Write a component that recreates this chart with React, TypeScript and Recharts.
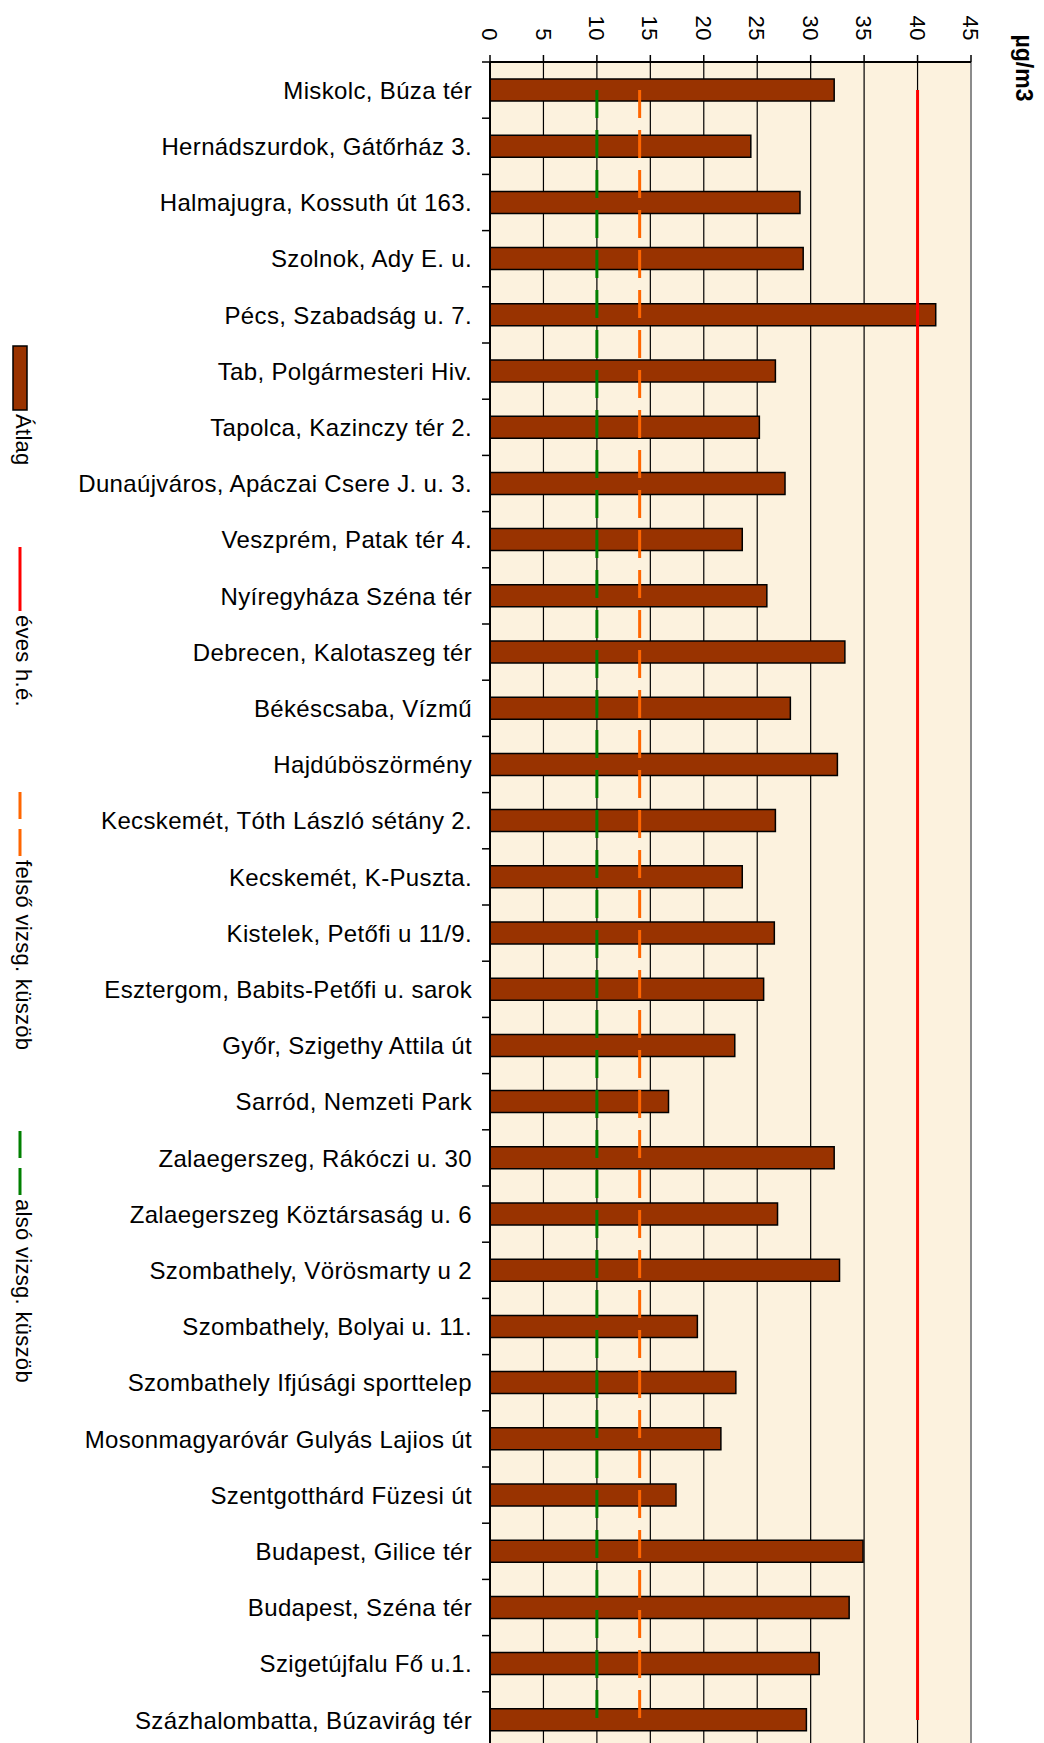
import { ComposedChart, Bar, Line, XAxis, YAxis, CartesianGrid, Legend, ReferenceLine } from 'recharts'

// mérőállomások (fentről lefelé)
const allomasok = [
  'Miskolc, Búza tér',
  'Hernádszurdok, Gátőrház 3.',
  'Halmajugra, Kossuth út 163.',
  'Szolnok, Ady E. u.',
  'Pécs, Szabadság u. 7.',
  'Tab, Polgármesteri Hiv.',
  'Tapolca, Kazinczy tér 2.',
  'Dunaújváros, Apáczai Csere J. u. 3.',
  'Veszprém, Patak tér 4.',
  'Nyíregyháza Széna tér',
  'Debrecen, Kalotaszeg tér',
  'Békéscsaba, Vízmű',
  'Hajdúböszörmény',
  'Kecskemét, Tóth László sétány 2.',
  'Kecskemét, K-Puszta.',
  'Kistelek, Petőfi u 11/9.',
  'Esztergom, Babits-Petőfi u. sarok',
  'Győr, Szigethy Attila út',
  'Sarród, Nemzeti Park',
  'Zalaegerszeg, Rákóczi u. 30',
  'Zalaegerszeg Köztársaság u. 6',
  'Szombathely, Vörösmarty u 2',
  'Szombathely, Bolyai u. 11.',
  'Szombathely Ifjúsági sporttelep',
  'Mosonmagyaróvár Gulyás Lajios út',
  'Szentgotthárd Füzesi út',
  'Budapest, Gilice tér',
  'Budapest, Széna tér',
  'Szigetújfalu Fő u.1.',
  'Százhalombatta, Búzavirág tér',
]

// éves átlag, µg/m3
const atlagok = [
  32.2, 24.4, 29.0, 29.3, 41.7, 26.7, 25.2, 27.6, 23.6, 25.9,
  33.2, 28.1, 32.5, 26.7, 23.6, 26.6, 25.6, 22.9, 16.7, 32.2,
  26.9, 32.7, 19.4, 23.0, 21.6, 17.4, 34.9, 33.6, 30.8, 29.6,
]

const evesHatarertek = 40
const felsoKuszob = 14
const alsoKuszob = 10

const ertekTengely = [0, 5, 10, 15, 20, 25, 30, 35, 40, 45]

const chartData = allomasok.map((allomas, i) => ({
  allomas,
  atlag: atlagok[i],
  eves: evesHatarertek,
  felso: felsoKuszob,
  also: alsoKuszob,
}))

const FONT = '"Liberation Sans", Arial, Helvetica, sans-serif'
const TICK_SIZE = 8
const TICK_MARGIN = 10

const sorrend = ['atlag', 'eves', 'felso', 'also']
const szaggatott: Record<string, boolean> = { felso: true, also: true }
const jelmagyarazatHely = [346, 547, 792, 1131]

// kategória felirat + osztásjel a sávok határán
function AllomasTick(props: any) {
  const { x, y, payload } = props
  const half = payload?.offset || 28.1
  const axisX = x + TICK_MARGIN + TICK_SIZE
  return (
    <g>
      <line x1={axisX - TICK_SIZE} x2={axisX} y1={y - half} y2={y - half} stroke="#000" strokeWidth={1.5} />
      <text x={x} y={y} dy="0.36em" textAnchor="end" fontSize={24} fill="#000" fontFamily={FONT} letterSpacing={0.35}>
        {payload.value}
      </text>
    </g>
  )
}

function ErtekTick(props: any) {
  const { x, y, payload } = props
  return (
    <text
      x={x}
      y={y}
      dy="0.36em"
      transform={`rotate(90 ${x} ${y})`}
      textAnchor="end"
      fontSize={22}
      fill="#000"
      fontFamily={FONT}
      letterSpacing={0.5}
    >
      {payload.value}
    </text>
  )
}

function Mertekegyseg(props: any) {
  const vb = props.viewBox || { x: 490, width: 481 }
  const cx = vb.x + vb.width + 53
  const cy = 68
  return (
    <text
      x={cx}
      y={cy}
      dy="0.36em"
      transform={`rotate(90 ${cx} ${cy})`}
      textAnchor="middle"
      fontSize={23}
      fontWeight="bold"
      fill="#000"
      fontFamily={FONT}
    >
      µg/m3
    </text>
  )
}

function Jelmagyarazat({ payload }: any) {
  return (
    <svg width={44} height={1743} style={{ position: 'absolute', left: 0, top: 0, overflow: 'visible' }}>
      {(payload || []).map((entry: any, i: number) => {
        const y0 = jelmagyarazatHely[i]
        const ty = y0 + 68
        return (
          <g key={entry.value}>
            {entry.type === 'rect' ? (
              <rect x={13} y={y0} width={14} height={64} fill={entry.color} stroke="#000" strokeWidth={1.5} />
            ) : (
              <line
                x1={20}
                x2={20}
                y1={y0}
                y2={y0 + 64}
                stroke={entry.color}
                strokeWidth={3}
                strokeDasharray={szaggatott[entry.dataKey] ? '27 10' : undefined}
              />
            )}
            <text
              x={16}
              y={ty}
              transform={`rotate(90 16 ${ty})`}
              fontSize={22}
              fill="#000"
              fontFamily={FONT}
              letterSpacing={0.3}
            >
              {entry.value}
            </text>
          </g>
        )
      })}
    </svg>
  )
}

export default function App() {
  return (
    <div style={{ position: 'fixed', left: 0, top: 0, width: 1044, height: 1743, overflow: 'hidden', background: '#fff' }}>
      <ComposedChart
        width={1044}
        height={1760}
        data={chartData}
        layout="vertical"
        margin={{ top: 0, right: 73, bottom: 12, left: 0 }}
      >
        <CartesianGrid horizontal={false} stroke="#000" strokeWidth={1.2} fill="#FCF2DE" fillOpacity={1} />
        <XAxis
          type="number"
          orientation="top"
          domain={[0, 45]}
          ticks={ertekTengely}
          interval={0}
          height={62}
          tickSize={7}
          tickMargin={14}
          axisLine={{ stroke: '#000', strokeWidth: 2 }}
          tickLine={{ stroke: '#000', strokeWidth: 1.5 }}
          tick={<ErtekTick />}
          label={{ content: <Mertekegyseg /> }}
        />
        <YAxis
          type="category"
          dataKey="allomas"
          width={490}
          interval={0}
          tickLine={false}
          tickSize={TICK_SIZE}
          tickMargin={TICK_MARGIN}
          axisLine={{ stroke: '#000', strokeWidth: 2 }}
          tick={<AllomasTick />}
        />
        <ReferenceLine x={45} stroke="#8c8c8c" strokeWidth={2} />
        <Legend
          content={(p: any) => <Jelmagyarazat {...p} />}
          itemSorter={(item: any) => sorrend.indexOf(item.dataKey)}
          wrapperStyle={{ left: 0, top: 0, width: 44, height: 0, overflow: 'visible' }}
        />
        <Bar
          dataKey="atlag"
          name="Átlag"
          fill="#993300"
          stroke="#000"
          strokeWidth={1.5}
          barSize={22}
          isAnimationActive={false}
        />
        <Line
          dataKey="eves"
          name="éves h.é."
          type="linear"
          stroke="#FF0000"
          strokeWidth={3}
          dot={false}
          activeDot={false}
          isAnimationActive={false}
        />
        <Line
          dataKey="felso"
          name="felső vizsg. küszöb"
          type="linear"
          stroke="#FF6600"
          strokeWidth={3}
          strokeDasharray="28 12"
          dot={false}
          activeDot={false}
          isAnimationActive={false}
        />
        <Line
          dataKey="also"
          name="alsó vizsg. küszöb"
          type="linear"
          stroke="#008000"
          strokeWidth={3}
          strokeDasharray="28 12"
          dot={false}
          activeDot={false}
          isAnimationActive={false}
        />
      </ComposedChart>
    </div>
  )
}
